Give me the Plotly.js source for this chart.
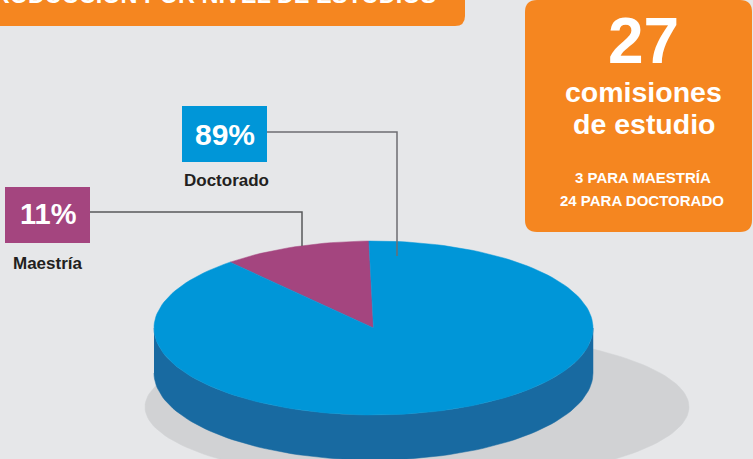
<!DOCTYPE html>
<html>
<head>
<meta charset="utf-8">
<script src="https://cdn.plot.ly/plotly-3.0.1.min.js"></script>
<style>html,body{margin:0;padding:0;background:#e6e7e9;}#chart{width:753px;height:459px;}</style>
</head>
<body>
<div id="chart"></div>
<script>
// ---- data ----
var categories = ['Maestría', 'Doctorado'];
var percentValues = [11, 89];
var percentLabels = ['11%', '89%'];
var commissionCounts = [3, 24];
var totalCommissions = 27;
var sideLines = ['3 PARA MAESTRÍA', '24 PARA DOCTORADO'];
var titleText = 'PRODUCCIÓN POR NIVEL DE ESTUDIOS';

// ---- styling ----
var topColors = ['#a4457f', '#0096d8'];
var sideColors = ['#7a2f5e', '#186aa1'];
var bg = '#e6e7e9';
var orange = '#f58620';
var FW = '"Liberation Sans", Arial, sans-serif';

// pie geometry (in the page-sized axis coordinates)
var cx = 373.5, cy = 328, ra = 219.5, rb = 87, depth = 45;
var midMaestria = 111; // degrees, centre of the first slice

function pt(deg, dy) {
  var r = deg * Math.PI / 180;
  return [cx + ra * Math.cos(r), cy - rb * Math.sin(r) + (dy || 0)];
}

var traces = [];
// shadow
(function () {
  var xs = [], ys = [];
  for (var i = 0; i <= 360; i += 2) {
    var r = i * Math.PI / 180;
    xs.push(417 + 272 * Math.cos(r));
    ys.push(407 - 76 * Math.sin(r));
  }
  traces.push({x: xs, y: ys, type: 'scatter', mode: 'lines', fill: 'toself',
    fillcolor: '#d1d2d4', line: {color: '#d1d2d4', width: 0.5}, hoverinfo: 'skip', showlegend: false});
})();

var total = percentValues.reduce(function (s, v) { return s + v; }, 0);
var start = midMaestria - percentValues[0] / total * 180;
var ranges = [];
var cur = start;
percentValues.forEach(function (v) {
  var span = v / total * 360;
  ranges.push([cur, cur + span]);
  cur += span;
});

// side faces (visible front half: 180..360 deg)
ranges.forEach(function (rg, k) {
  [-360, 0, 360].forEach(function (off) {
    var a0 = Math.max(rg[0] + off, 180), a1 = Math.min(rg[1] + off, 360);
    if (a1 <= a0) return;
    var xs = [], ys = [];
    var n = Math.max(2, Math.ceil((a1 - a0) / 2));
    for (var i = 0; i <= n; i++) { var p = pt(a0 + (a1 - a0) * i / n, 0); xs.push(p[0]); ys.push(p[1]); }
    for (var j = n; j >= 0; j--) { var q = pt(a0 + (a1 - a0) * j / n, depth); xs.push(q[0]); ys.push(q[1]); }
    traces.push({x: xs, y: ys, type: 'scatter', mode: 'lines', fill: 'toself',
      fillcolor: sideColors[k], line: {color: sideColors[k], width: 0.5}, hoverinfo: 'skip', showlegend: false});
  });
});

// top faces
ranges.forEach(function (rg, k) {
  var xs = [cx], ys = [cy];
  var n = Math.max(2, Math.ceil((rg[1] - rg[0]) / 2));
  for (var i = 0; i <= n; i++) { var p = pt(rg[0] + (rg[1] - rg[0]) * i / n, 0); xs.push(p[0]); ys.push(p[1]); }
  xs.push(cx); ys.push(cy);
  traces.push({x: xs, y: ys, type: 'scatter', mode: 'lines', fill: 'toself', name: categories[k],
    fillcolor: topColors[k], line: {color: topColors[k], width: 0.5}, hoverinfo: 'skip', showlegend: false});
});

function rrect(x0, y0, x1, y1, r, corners) {
  var c = corners || [1, 1, 1, 1];
  var tl = r * c[0], tr = r * c[1], br = r * c[2], bl = r * c[3];
  return 'M' + (x0 + tl) + ',' + y0 + ' L' + (x1 - tr) + ',' + y0 +
    ' Q' + x1 + ',' + y0 + ' ' + x1 + ',' + (y0 + tr) +
    ' L' + x1 + ',' + (y1 - br) + ' Q' + x1 + ',' + y1 + ' ' + (x1 - br) + ',' + y1 +
    ' L' + (x0 + bl) + ',' + y1 + ' Q' + x0 + ',' + y1 + ' ' + x0 + ',' + (y1 - bl) +
    ' L' + x0 + ',' + (y0 + tl) + ' Q' + x0 + ',' + y0 + ' ' + (x0 + tl) + ',' + y0 + ' Z';
}

var shapes = [
  {type: 'path', xref: 'x', yref: 'y', path: rrect(-20, -20, 465, 26, 10, [0, 0, 1, 0]), fillcolor: orange, line: {width: 0}},
  {type: 'path', xref: 'x', yref: 'y', path: rrect(525, 0, 752, 232, 12), fillcolor: orange, line: {width: 0}},
  {type: 'rect', xref: 'x', yref: 'y', x0: 182, x1: 267, y0: 106, y1: 162, fillcolor: topColors[1], line: {width: 0}},
  {type: 'rect', xref: 'x', yref: 'y', x0: 5, x1: 90, y0: 187, y1: 243, fillcolor: topColors[0], line: {width: 0}},
  {type: 'path', xref: 'x', yref: 'y', path: 'M267,132 L397,132 L397,256', line: {color: '#6d6e71', width: 1.5}},
  {type: 'path', xref: 'x', yref: 'y', path: 'M90,212 L302,212 L302,246', line: {color: '#58595b', width: 1.5}}
];

var annotations = [
  {x: 438, y: 10.5, xanchor: 'right', yanchor: 'bottom', text: titleText, showarrow: false,
    font: {family: FW, size: 23.5, color: '#ffffff', weight: 'bold'}},
  {x: 225, y: 134, text: percentLabels[1], showarrow: false, xanchor: 'center', yanchor: 'middle',
    font: {family: FW, size: 30, color: '#ffffff', weight: 'bold'}},
  {x: 226, y: 180, text: categories[1], showarrow: false, xanchor: 'center', yanchor: 'middle',
    font: {family: FW, size: 17, color: '#231f20', weight: 'bold'}},
  {x: 48, y: 214, text: percentLabels[0], showarrow: false, xanchor: 'center', yanchor: 'middle',
    font: {family: FW, size: 29, color: '#ffffff', weight: 'bold'}},
  {x: 48, y: 263, text: categories[0], showarrow: false, xanchor: 'center', yanchor: 'middle',
    font: {family: FW, size: 17, color: '#231f20', weight: 'bold'}},
  {x: 643, y: 41, text: String(totalCommissions), showarrow: false, xanchor: 'center', yanchor: 'middle',
    font: {family: FW, size: 64, color: '#ffffff', weight: 'bold'}},
  {x: 643, y: 92, text: 'comisiones', showarrow: false, xanchor: 'center', yanchor: 'middle',
    font: {family: FW, size: 28.5, color: '#ffffff', weight: 'bold'}},
  {x: 644, y: 124, text: 'de estudio', showarrow: false, xanchor: 'center', yanchor: 'middle',
    font: {family: FW, size: 28.5, color: '#ffffff', weight: 'bold'}},
  {x: 643, y: 177, text: sideLines[0], showarrow: false, xanchor: 'center', yanchor: 'middle',
    font: {family: FW, size: 15, color: '#ffffff', weight: 'bold'}},
  {x: 642, y: 200, text: sideLines[1], showarrow: false, xanchor: 'center', yanchor: 'middle',
    font: {family: FW, size: 15, color: '#ffffff', weight: 'bold'}}
];
annotations.forEach(function (a) { a.xref = 'x'; a.yref = 'y'; });

var layout = {
  width: 753, height: 459,
  margin: {l: 0, r: 0, t: 0, b: 0},
  paper_bgcolor: bg, plot_bgcolor: bg,
  xaxis: {range: [0, 753], visible: false, fixedrange: true},
  yaxis: {range: [459, 0], visible: false, fixedrange: true},
  shapes: shapes,
  annotations: annotations,
  showlegend: false
};

Plotly.newPlot('chart', traces, layout, {staticPlot: true, displayModeBar: false});
</script>
</body>
</html>
